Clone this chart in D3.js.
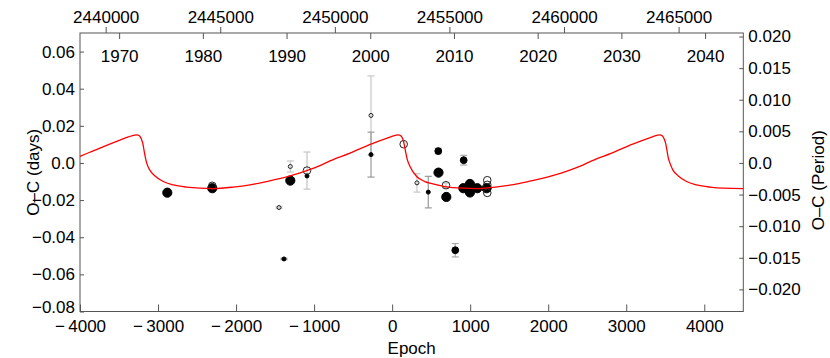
<!DOCTYPE html>
<html><head><meta charset="utf-8">
<script src="https://cdn.jsdelivr.net/npm/d3@7"></script>
<style>
html,body{margin:0;padding:0;background:#fff;}
svg text{font-family:"Liberation Sans",Arial,Helvetica,sans-serif;fill:#000;}
</style></head>
<body>
<svg id="chart" width="830" height="358"></svg>
<script>
// ---- Data ----
const period = 3.405;          // days per epoch
const t0 = 2452500;            // HJD at epoch 0

const epochTicks = [-4000,-3000,-2000,-1000,0,1000,2000,3000,4000];
const daysTicks = [-0.08,-0.06,-0.04,-0.02,0.0,0.02,0.04,0.06];
const periodTicks = [-0.020,-0.015,-0.010,-0.005,0.0,0.005,0.010,0.015,0.020];
const hjdTicks = [2440000,2445000,2450000,2455000,2460000,2465000];
const yearTicks = [1970,1980,1990,2000,2010,2020,2030,2040];

// filled, large
const filledLargeE  = [-2881,-2305,-1305,594,694,912,997,997,1091,1211];
const filledLargeOC = [-0.0160,-0.0136,-0.0095,-0.0052,-0.0183,-0.0136,-0.0113,-0.0159,-0.0136,-0.0136];
const filledLargeErr= [0,0,0,0,0,0,0,0,0,0];
// filled, medium
const filledMedE  = [591,917,809];
const filledMedOC = [0.0064,0.0015,-0.0470];
const filledMedErr= [0.0015,0.0026,0.0036];
// filled, small
const filledSmallE  = [-1386,-1091,-271,463];
const filledSmallOC = [-0.0517,-0.0070,0.0045,-0.0157];
const filledSmallErr= [0.0004,0,0.0121,0.0085];
// open, large
const openLargeE  = [-2305,-1091,148,690,1219,1219,1219];
const openLargeOC = [-0.0123,-0.0041,0.0101,-0.0120,-0.0093,-0.0118,-0.0161];
const openLargeErr= [0,0.0100,0,0.0012,0,0,0];
// open, small
const openSmallE  = [-1305,-1450,-271,318];
const openSmallOC = [-0.0019,-0.0240,0.0256,-0.0107];
const openSmallErr= [0.0030,0.0004,0.0213,0.0050];

// model curve (epoch, O-C days)
const curveE  = [-4000,-3890,-3744,-3620,-3480,-3381,-3300,-3270,-3240,-3215,-3195,-3176,-3160,-3145,-3103,-3039,-2933,-2804,-2633,-2462,-2292,-2036,-1822,-1608,-1309,-1095,-925,-797,-540,-271,-28,50,80,110,135,155,175,190,229,314,420,485,677,900,1083,1320,1530,1745,2044,2260,2428,2556,2813,3082,3325,3400,3432,3460,3485,3505,3525,3540,3560,3600,3667,3773,3902,4073,4244,4500];
const curveOC = [0.0035,0.0055,0.0080,0.0101,0.0124,0.0140,0.0150,0.0151,0.0146,0.0130,0.0105,0.0060,0.0025,-0.0001,-0.0040,-0.0070,-0.0100,-0.0118,-0.0130,-0.0136,-0.0138,-0.0130,-0.0118,-0.0100,-0.0070,-0.0041,-0.0014,0.0011,0.0053,0.0101,0.0139,0.0150,0.0151,0.0146,0.0130,0.0100,0.0055,0.0025,-0.0019,-0.0073,-0.0100,-0.0109,-0.0127,-0.0136,-0.0138,-0.0130,-0.0118,-0.0100,-0.0070,-0.0041,-0.0014,0.0011,0.0053,0.0101,0.0139,0.0150,0.0151,0.0146,0.0130,0.0105,0.0060,0.0025,-0.0001,-0.0040,-0.0070,-0.0100,-0.0118,-0.0130,-0.0136,-0.0138];

// ---- Layout ----
const L = 80, R = 743.3, T = 33, B = 311.5;
const svg = d3.select("#chart");
const fs = 17;

const x = d3.scaleLinear().domain([-4000,4500]).range([L,R]);
const y = d3.scaleLinear().domain([-0.08,0.07]).range([B,T]);
const y2 = d3.scaleLinear().domain([-0.08/period,0.07/period]).range([B,T]);
const hjd = e => t0 + period*e;
const toYear = h => 2000 + (h - 2451545)/365.25;
const xH = d3.scaleLinear().domain([hjd(-4000),hjd(4500)]).range([L,R]);
const xY = d3.scaleLinear().domain([toYear(hjd(-4000)),toYear(hjd(4500))]).range([L,R]);

const minus = s => s.replace("-","\u2212\u2009");
const fmtDays = v => v===0 ? "0.0" : minus(d3.format(".2f")(v));
const fmtPer = v => Math.abs(v)<1e-9 ? "0.0" : minus(d3.format(".3f")(v));
const fmtE = v => minus(String(v));

const axisColor = "#555";
function styleAxis(g){
  g.select(".domain").remove();
  g.selectAll(".tick line").attr("stroke",axisColor).attr("stroke-width",1);
  g.selectAll(".tick text").attr("font-size",fs).attr("fill","#000");
}

// frame
svg.append("rect").attr("x",L).attr("y",T).attr("width",R-L).attr("height",B-T)
  .attr("fill","none").attr("stroke",axisColor).attr("stroke-width",1);

// bottom axis (inward ticks)
const gB = svg.append("g").attr("transform",`translate(0,${B})`)
  .call(d3.axisBottom(x).tickValues(epochTicks).tickFormat(fmtE).tickSizeInner(-7).tickSizeOuter(0));
styleAxis(gB);
gB.selectAll(".tick text").attr("y",20.5).attr("dy","0");

// left axis
const gL = svg.append("g").attr("transform",`translate(${L},0)`)
  .call(d3.axisLeft(y).tickValues(daysTicks).tickFormat(fmtDays).tickSizeInner(-4).tickSizeOuter(0).tickPadding(5));
styleAxis(gL);
gL.selectAll(".tick text").attr("x",-5).attr("y",d=>d===-0.08?-4:0);

// right axis
const gR = svg.append("g").attr("transform",`translate(${R},0)`)
  .call(d3.axisRight(y2).tickValues(periodTicks).tickFormat(fmtPer).tickSizeInner(-4).tickSizeOuter(0));
styleAxis(gR);
gR.selectAll(".tick text").attr("x",5);

// top HJD axis (outward ticks)
const gH = svg.append("g").attr("transform",`translate(0,${T})`)
  .call(d3.axisTop(xH).tickValues(hjdTicks).tickFormat(d3.format("d")).tickSizeInner(6).tickSizeOuter(0).tickPadding(4));
styleAxis(gH);

// top year axis (inward ticks, labels inside)
const gY = svg.append("g").attr("transform",`translate(0,${T})`)
  .call(d3.axisBottom(xY).tickValues(yearTicks).tickFormat(d3.format("d")).tickSizeInner(6).tickSizeOuter(0));
styleAxis(gY);
gY.selectAll(".tick text").attr("y",29).attr("dy","0");

// axis titles
svg.append("text").attr("x",(L+R)/2).attr("y",354).attr("text-anchor","middle").attr("font-size",fs).text("Epoch");
svg.append("text").attr("transform",`translate(39,${(T+B)/2}) rotate(-90)`).attr("text-anchor","middle").attr("font-size",fs).text("O\u2013C (days)");
svg.append("text").attr("transform",`translate(824,${(T+B)/2+8}) rotate(-90)`).attr("text-anchor","middle").attr("font-size",fs).text("O\u2013C (Period)");

// ---- points ----
const series = [
  {E:filledLargeE, OC:filledLargeOC, err:filledLargeErr, r:4.6, fill:"#000", stroke:"#000", ec:"#999"},
  {E:filledMedE, OC:filledMedOC, err:filledMedErr, r:3.4, fill:"#000", stroke:"#000", ec:"#aaa"},
  {E:filledSmallE, OC:filledSmallOC, err:filledSmallErr, r:2.0, fill:"#000", stroke:"#000", ec:"#999"},
  {E:openLargeE, OC:openLargeOC, err:openLargeErr, r:3.8, fill:"none", stroke:"#222", ec:"#c4c4c4"},
  {E:openSmallE, OC:openSmallOC, err:openSmallErr, r:2.0, fill:"none", stroke:"#222", ec:"#c8c8c8"}
];
const gP = svg.append("g");
// draw error bars: light ones first, darker on top
[4,3,1,0,2].forEach(k=>{
  const s = series[k];
  const d = s.E.map((e,i)=>({e, oc:s.OC[i], err:s.err[i]}));
  const eb = gP.append("g").selectAll("g").data(d.filter(p=>p.err>0)).join("g")
    .attr("stroke",s.ec).attr("stroke-width",1.2);
  eb.append("line").attr("x1",p=>x(p.e)).attr("x2",p=>x(p.e)).attr("y1",p=>y(p.oc-p.err)).attr("y2",p=>y(p.oc+p.err));
  eb.append("line").attr("x1",p=>x(p.e)-3.5).attr("x2",p=>x(p.e)+3.5).attr("y1",p=>y(p.oc-p.err)).attr("y2",p=>y(p.oc-p.err));
  eb.append("line").attr("x1",p=>x(p.e)-3.5).attr("x2",p=>x(p.e)+3.5).attr("y1",p=>y(p.oc+p.err)).attr("y2",p=>y(p.oc+p.err));
});
series.forEach(s=>{
  const d = s.E.map((e,i)=>({e, oc:s.OC[i]}));
  gP.append("g").selectAll("circle").data(d).join("circle")
    .attr("cx",p=>x(p.e)).attr("cy",p=>y(p.oc)).attr("r",s.r)
    .attr("fill",s.fill).attr("stroke",s.stroke).attr("stroke-width",1);
});

// ---- model curve ----
const curve = curveE.map((e,i)=>[e,curveOC[i]]);
svg.append("path").datum(curve)
  .attr("d",d3.line().x(d=>x(d[0])).y(d=>y(d[1])).curve(d3.curveMonotoneX))
  .attr("fill","none").attr("stroke","#ff0000").attr("stroke-width",1.3);
</script>
</body></html>
